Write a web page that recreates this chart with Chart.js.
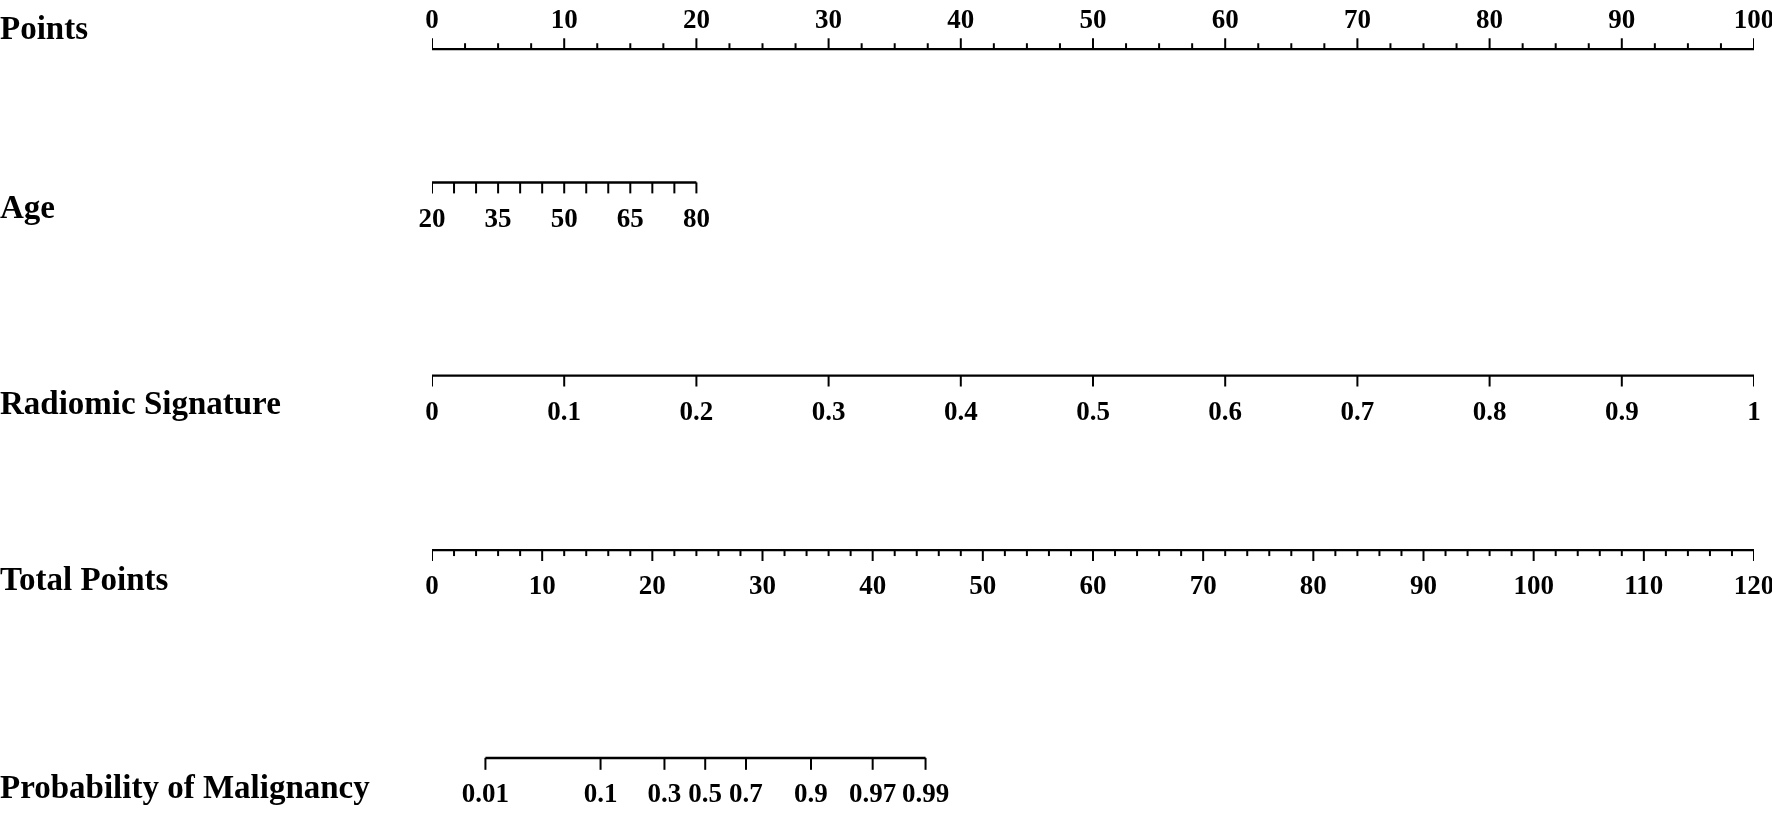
<!DOCTYPE html>
<html>
<head>
<meta charset="utf-8">
<script src="https://cdn.jsdelivr.net/npm/chart.js@4"></script>
<style>
  html, body { margin: 0; padding: 0; background: #fff; }
  canvas { display: block; }
</style>
</head>
<body>
<canvas id="nomogram" width="1772" height="813"></canvas>
<script>
// values
const pointsLabels = [0, 10, 20, 30, 40, 50, 60, 70, 80, 90, 100];
const ageTicks = [20, 25, 30, 35, 40, 45, 50, 55, 60, 65, 70, 75, 80];
const ageLabels = [20, 35, 50, 65, 80];
const radiomicLabels = [0, 0.1, 0.2, 0.3, 0.4, 0.5, 0.6, 0.7, 0.8, 0.9, 1];
const totalLabels = [0, 10, 20, 30, 40, 50, 60, 70, 80, 90, 100, 110, 120];
const probLabels = ['0.01', '0.1', '0.3', '0.5', '0.7', '0.9', '0.97', '0.99'];
const probTotalPoints = [4.85, 15.3, 21.1, 24.8, 28.5, 34.4, 40.0, 44.8];

// layout (pixels)
const rowLine = { points: 42, age: 178, radiomic: 375, total: 553, prob: 765 };
const rowText = { points: 32, age: 214, radiomic: 414, total: 594, prob: 806 };
const tickText = { points: 20, age: 223, radiomic: 420, total: 598, prob: 810 };
const majorLen = 11;
const minorLen = 6;

const labelFont = 'bold 33px "Liberation Serif", "Times New Roman", serif';
const tickFont = 'bold 27px "Liberation Serif", "Times New Roman", serif';

// each row converted to the "Points" scale
const toPts = {
    points: (v) => v,
    age: (v) => (v - 20) / 3,
    radiomic: (v) => v * 100,
    total: (v) => v / 1.2,
};

const ticks = [];
const addTick = (x, y, dir, len) => ticks.push({ x, y: y + dir * len / 2, r: len / 2 });

for (let v = 0; v <= 100; v += 2.5) {
    addTick(v, rowLine.points, -1, v % 10 === 0 ? majorLen : minorLen);
}
ageTicks.forEach((v) => addTick(toPts.age(v), rowLine.age, 1, majorLen));
radiomicLabels.forEach((v) => addTick(toPts.radiomic(v), rowLine.radiomic, 1, majorLen));
for (let v = 0; v <= 120; v += 2) {
    addTick(toPts.total(v), rowLine.total, 1, v % 10 === 0 ? majorLen : minorLen);
}
probTotalPoints.forEach((v) => addTick(toPts.total(v), rowLine.prob, 1, majorLen + 1));

const axisLine = (from, to, y) => ({
    type: 'line',
    data: [{ x: from, y }, { x: to, y }],
    borderColor: '#000',
    borderWidth: 2.4,
    pointRadius: 0,
    fill: false,
});

const textLayer = {
    id: 'textLayer',
    afterDatasetsDraw(chart) {
        const { ctx, scales: { x, y } } = chart;
        ctx.save();
        ctx.fillStyle = '#000';
        ctx.textBaseline = 'alphabetic';

        ctx.font = labelFont;
        ctx.textAlign = 'left';
        [
            ['Points', rowText.points],
            ['Age', rowText.age],
            ['Radiomic Signature', rowText.radiomic],
            ['Total Points', rowText.total],
            ['Probability of Malignancy', rowText.prob],
        ].forEach(([t, py]) => ctx.fillText(t, 0, y.getPixelForValue(py)));

        ctx.font = tickFont;
        ctx.textAlign = 'center';
        const put = (label, pts, py) => ctx.fillText(String(label), x.getPixelForValue(pts), y.getPixelForValue(py));
        pointsLabels.forEach((v) => put(v, toPts.points(v), tickText.points));
        ageLabels.forEach((v) => put(v, toPts.age(v), tickText.age));
        radiomicLabels.forEach((v) => put(v, toPts.radiomic(v), tickText.radiomic));
        totalLabels.forEach((v) => put(v, toPts.total(v), tickText.total));
        probLabels.forEach((v, i) => put(v, toPts.total(probTotalPoints[i]), tickText.prob));
        ctx.restore();
    },
};

new Chart(document.getElementById('nomogram'), {
    type: 'scatter',
    data: {
        datasets: [
            axisLine(0, 100, rowLine.points),
            axisLine(toPts.age(20), toPts.age(80), rowLine.age),
            axisLine(0, 100, rowLine.radiomic),
            axisLine(0, 100, rowLine.total),
            axisLine(toPts.total(probTotalPoints[0]), toPts.total(probTotalPoints[probTotalPoints.length - 1]), rowLine.prob),
            {
                data: ticks,
                pointStyle: 'line',
                rotation: 90,
                radius: (c) => (c.raw ? c.raw.r : 0),
                borderColor: '#000',
                borderWidth: 2,
            },
        ],
    },
    options: {
        responsive: false,
        animation: false,
        events: [],
        layout: { padding: { left: 432, right: 18, top: 0, bottom: 0 } },
        plugins: { legend: { display: false }, tooltip: { enabled: false } },
        scales: {
            x: { type: 'linear', min: 0, max: 100, display: false },
            y: { type: 'linear', min: 0, max: 813, reverse: true, display: false },
        },
    },
    plugins: [textLayer],
});
</script>
</body>
</html>
